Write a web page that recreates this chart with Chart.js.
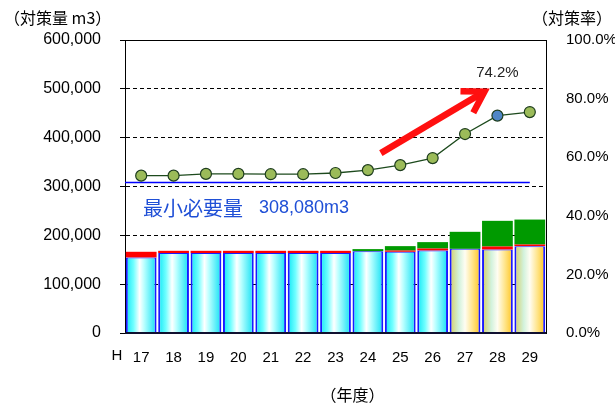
<!DOCTYPE html>
<html>
<head>
<meta charset="utf-8">
<script src="https://cdn.jsdelivr.net/npm/chart.js@4/dist/chart.umd.min.js"></script>
<style>
  html, body { margin: 0; padding: 0; background: #fff; }
  #wrap { width: 615px; height: 406px; position: relative; }
</style>
</head>
<body>
<div id="wrap"><canvas id="c" width="615" height="406"></canvas></div>
<script>
// 年度 (H17〜H29)
const years = ['17', '18', '19', '20', '21', '22', '23', '24', '25', '26', '27', '28', '29'];
// 計画年度（棒の塗りを変える）
const planYears = ['27', '28', '29'];
// 対策量 (m3) の内訳
const baseVolume  = [154600, 163600, 163600, 163600, 163600, 163600, 163600, 167300, 166300, 168900, 172400, 171000, 177900];
const redVolume   = [11700, 4700, 4700, 4700, 4700, 4700, 4700, 0, 2600, 4100, 0, 6100, 3300];
const greenVolume = [0, 0, 0, 0, 0, 0, 0, 4500, 9000, 13100, 34800, 52600, 51100];
// 対策率 (%)
const rate = [53.7, 53.7, 54.3, 54.3, 54.2, 54.2, 54.6, 55.6, 57.3, 59.7, 67.9, 74.2, 75.4];
// 最小必要量 (m3)
const minRequired = 308080;
// 軸目盛
const volumeTicks = [0, 100000, 200000, 300000, 400000, 500000, 600000];
const rateTicks = [0, 20, 40, 60, 80, 100];
// 注記する年度
const highlightYear = '28';

const FONT = "'Liberation Sans', 'Noto Sans CJK JP', sans-serif";
const JP = "'Noto Sans CJK JP', 'Liberation Sans', sans-serif";

function barFill(c) {
  const planned = c.type === 'data' && planYears.includes(years[c.dataIndex]);
  const chart = c.chart;
  if (!chart.chartArea || c.type !== 'data') return planned ? '#ffd060' : '#40f0ff';
  const xs = chart.scales.x;
  const cx = xs.getPixelForValue(c.dataIndex);
  const w = xs.width / years.length * 0.95;
  const g = chart.ctx.createLinearGradient(cx - w / 2, 0, cx + w / 2, 0);
  if (planned) {
    g.addColorStop(0, '#d6cc62');
    g.addColorStop(0.3, '#d2f2dc');
    g.addColorStop(0.5, '#fffdf2');
    g.addColorStop(0.75, '#ffe488');
    g.addColorStop(1, '#ffc41e');
  } else {
    g.addColorStop(0, '#10e6f6');
    g.addColorStop(0.25, '#70ffff');
    g.addColorStop(0.45, '#ffffff');
    g.addColorStop(0.6, '#b8ffff');
    g.addColorStop(1, '#10e0f4');
  }
  return g;
}

const annotations = {
  id: 'annotations',
  beforeDatasetsDraw(chart) {
    const { ctx, chartArea, scales } = chart;
    // 最小必要量ライン
    const y = scales.y.getPixelForValue(minRequired);
    ctx.save();
    ctx.strokeStyle = '#0000ff';
    ctx.lineWidth = 1.5;
    ctx.beginPath();
    ctx.moveTo(chartArea.left, y);
    ctx.lineTo(scales.x.getPixelForValue(years.length - 1), y);
    ctx.stroke();
    ctx.fillStyle = '#1f4fd6';
    ctx.textBaseline = 'middle';
    ctx.textAlign = 'left';
    const ty = scales.y.getPixelForValue(minRequired - 52000);
    ctx.font = "20px " + JP;
    ctx.fillText('最小必要量', chartArea.left + 18, ty);
    ctx.font = "18px " + FONT;
    ctx.fillText(minRequired.toLocaleString('en-US') + 'm3', chartArea.left + 134, ty);
    ctx.restore();
  },
  afterDatasetsDraw(chart) {
    const { ctx, chartArea, scales } = chart;
    ctx.save();
    // 枠線
    ctx.strokeStyle = '#000';
    ctx.lineWidth = 1;
    ctx.beginPath();
    ctx.moveTo(chartArea.left, chartArea.top + 0.5);
    ctx.lineTo(chartArea.right, chartArea.top + 0.5);
    ctx.stroke();
    ctx.strokeStyle = '#101030';
    ctx.lineWidth = 2;
    ctx.beginPath();
    ctx.moveTo(chartArea.left, chartArea.bottom);
    ctx.lineTo(chartArea.right, chartArea.bottom);
    ctx.stroke();

    // 増加傾向の矢印
    const x0 = scales.x.getPixelForValue(7.4), y0 = scales.y2.getPixelForValue(61.4);
    const x1 = scales.x.getPixelForValue(10.6), y1 = scales.y2.getPixelForValue(82.4);
    const ang = Math.atan2(y1 - y0, x1 - x0);
    ctx.strokeStyle = '#ff1010';
    ctx.lineWidth = 6.5;
    ctx.lineCap = 'butt';
    ctx.lineJoin = 'miter';
    ctx.beginPath();
    ctx.moveTo(x0, y0);
    ctx.lineTo(x1 - 3 * Math.cos(ang), y1 - 3 * Math.sin(ang));
    ctx.stroke();
    const hl = 24;
    ctx.beginPath();
    ctx.moveTo(x1 + hl * Math.cos(ang + Math.PI - 0.55), y1 + hl * Math.sin(ang + Math.PI - 0.55));
    ctx.lineTo(x1, y1);
    ctx.lineTo(x1 + hl * Math.cos(ang + Math.PI + 0.55), y1 + hl * Math.sin(ang + Math.PI + 0.55));
    ctx.stroke();

    // 対策率の注記
    const hi = years.indexOf(highlightYear);
    ctx.fillStyle = '#222';
    ctx.font = "15px " + FONT;
    ctx.textAlign = 'center';
    ctx.textBaseline = 'middle';
    ctx.fillText(rate[hi].toFixed(1) + '%', scales.x.getPixelForValue(hi), scales.y2.getPixelForValue(rate[hi]) - 43);

    // 軸タイトル・年号
    ctx.fillStyle = '#000';
    ctx.font = "16px " + JP;
    ctx.textAlign = 'left';
    ctx.fillText('（対策量 m3）', 4, 18);
    ctx.textAlign = 'right';
    ctx.fillText('（対策率）', 612, 18);
    ctx.textAlign = 'center';
    ctx.fillText('（年度）', (chartArea.left + chartArea.right) / 2 + 17, 395);
    ctx.font = "15px " + FONT;
    ctx.fillText('H', chartArea.left - 8, 356);
    ctx.restore();
  }
};

new Chart(document.getElementById('c'), {
  data: {
    labels: years,
    datasets: [
      {
        type: 'line', label: '対策率', data: rate, yAxisID: 'y2', order: 0,
        borderColor: '#1d4a1d', borderWidth: 1.3,
        pointRadius: 5.5, pointBorderWidth: 1.2, pointBorderColor: '#1e3d1e',
        pointBackgroundColor: years.map(y => y === highlightYear ? '#4f86c6' : '#9bbb59'),
        stack: 'rate'
      },
      {
        type: 'bar', label: '対策量', data: baseVolume, yAxisID: 'y', order: 1, stack: 'v',
        backgroundColor: barFill, borderColor: '#1a1aff',
        borderWidth: { left: 2, right: 2, top: 1, bottom: 0 }, borderSkipped: false
      },
      {
        type: 'bar', label: '追加1', data: redVolume, yAxisID: 'y', order: 2, stack: 'v',
        backgroundColor: '#ff0000'
      },
      {
        type: 'bar', label: '追加2', data: greenVolume, yAxisID: 'y', order: 3, stack: 'v',
        backgroundColor: '#009a00'
      }
    ]
  },
  options: {
    responsive: false,
    animation: false,
    events: [],
    datasets: { bar: { barPercentage: 0.95, categoryPercentage: 1.0 } },
    layout: { padding: { top: 40, left: 0, right: 0, bottom: 0 } },
    plugins: { legend: { display: false }, tooltip: { enabled: false } },
    scales: {
      x: {
        stacked: true,
        grid: { display: false },
        border: { display: false },
        ticks: { color: '#000', font: { size: 15, family: FONT }, padding: 8, maxRotation: 0 },
        afterFit(s) { s.height = 73; }
      },
      y: {
        position: 'left', stacked: true, min: 0, max: 600000,
        afterBuildTicks(s) { s.ticks = volumeTicks.map(v => ({ value: v })); },
        ticks: {
          color: '#000', font: { size: 16, family: FONT }, padding: 19,
          callback: v => v.toLocaleString('en-US')
        },
        grid: {
          color: c => (c.tick && (c.tick.value === 0 || c.tick.value === 600000)) ? 'rgba(0,0,0,0)' : '#000',
          lineWidth: 1, tickLength: 5, tickColor: '#000', tickBorderDash: []
        },
        border: { display: true, color: '#000', width: 1, dash: [4, 3] },
        afterFit(s) { s.width = 125; }
      },
      y2: {
        position: 'right', min: 0, max: 100,
        afterBuildTicks(s) { s.ticks = rateTicks.map(v => ({ value: v })); },
        ticks: {
          color: '#000', font: { size: 15, family: FONT }, padding: 20,
          callback: v => v.toFixed(1) + '%'
        },
        grid: { display: false, drawTicks: false },
        border: { display: true, color: '#000', width: 1 },
        afterFit(s) { s.width = 69; }
      }
    }
  },
  plugins: [annotations]
});
</script>
</body>
</html>
